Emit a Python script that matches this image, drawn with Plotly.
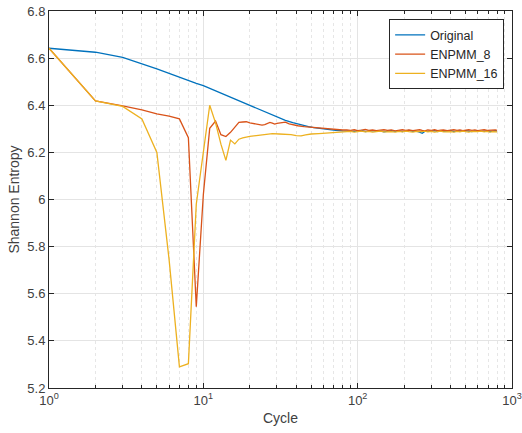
import plotly.graph_objects as go

# ---------------- data ----------------
tail_cycles = [85, 90, 95, 100, 106, 112, 118, 125, 132, 140, 148, 156, 165, 175, 185,
               195, 205, 215, 228, 240, 252, 262, 272, 285, 300, 315, 330, 345, 360, 380,
               400, 420, 440, 460, 480, 500, 525, 550, 575, 600, 630, 660, 690, 720, 750,
               780, 800]

cycles_original = [1, 2, 3, 4, 5, 6, 7, 8, 9, 10, 12, 14, 16, 18, 20, 22, 24, 27, 30, 34,
                   38, 43, 48, 52, 58, 65, 72, 80] + tail_cycles
entropy_original = [6.642, 6.625, 6.603, 6.577, 6.554, 6.535, 6.518, 6.506, 6.493, 6.483,
                    6.461, 6.442, 6.426, 6.411, 6.399, 6.387, 6.377, 6.362, 6.349, 6.336,
                    6.326, 6.316, 6.309, 6.305, 6.300, 6.296, 6.293, 6.291,
                    6.290, 6.292, 6.289, 6.291, 6.293, 6.288, 6.290, 6.292, 6.289, 6.291,
                    6.287, 6.290, 6.292, 6.289, 6.291, 6.288, 6.290, 6.293, 6.289, 6.290,
                    6.286, 6.281, 6.289, 6.291, 6.290, 6.292, 6.288, 6.291, 6.289, 6.290,
                    6.293, 6.288, 6.290, 6.291, 6.289, 6.292, 6.290, 6.288, 6.291, 6.290,
                    6.292, 6.289, 6.291, 6.288, 6.290, 6.292, 6.290]

cycles_enpmm8 = list(range(1, 31)) + [32, 34, 36, 38, 41, 45, 50, 55, 60, 68, 75, 80] + tail_cycles
entropy_enpmm8 = [6.642, 6.418, 6.397, 6.380, 6.363, 6.354, 6.342, 6.262, 5.545, 6.020,
                  6.302, 6.333, 6.275, 6.267, 6.285, 6.309, 6.327, 6.329, 6.330, 6.325,
                  6.322, 6.319, 6.318, 6.316, 6.318, 6.322, 6.327, 6.324, 6.320, 6.323,
                  6.326, 6.328, 6.321, 6.317, 6.313, 6.309, 6.306, 6.304, 6.301, 6.298,
                  6.296, 6.295,
                  6.295, 6.293, 6.296, 6.292, 6.294, 6.297, 6.293, 6.295, 6.292, 6.294,
                  6.296, 6.293, 6.295, 6.291, 6.294, 6.296, 6.293, 6.295, 6.292, 6.294,
                  6.296, 6.293, 6.291, 6.295, 6.293, 6.296, 6.292, 6.294, 6.295, 6.292,
                  6.294, 6.296, 6.293, 6.295, 6.292, 6.294, 6.296, 6.293, 6.295, 6.292,
                  6.294, 6.296, 6.293, 6.294, 6.292, 6.295, 6.293]

cycles_enpmm16 = list(range(1, 21)) + [22, 24, 26, 28, 31, 34, 37, 40, 43, 46, 50, 56, 62,
                                       70, 80] + tail_cycles
entropy_enpmm16 = [6.642, 6.418, 6.395, 6.342, 6.200, 5.745, 5.290, 5.303, 5.980, 6.190,
                   6.400, 6.325, 6.235, 6.166, 6.252, 6.236, 6.256, 6.262, 6.266, 6.268,
                   6.271, 6.274, 6.279, 6.280, 6.278, 6.277, 6.275, 6.271, 6.270, 6.274,
                   6.278, 6.280, 6.282, 6.284, 6.286,
                   6.287, 6.289, 6.286, 6.288, 6.290, 6.287, 6.289, 6.286, 6.288, 6.290,
                   6.287, 6.289, 6.288, 6.286, 6.289, 6.287, 6.290, 6.288, 6.286, 6.289,
                   6.287, 6.288, 6.290, 6.287, 6.289, 6.286, 6.288, 6.290, 6.287, 6.289,
                   6.288, 6.286, 6.289, 6.287, 6.290, 6.288, 6.286, 6.289, 6.287, 6.288,
                   6.290, 6.287, 6.289, 6.286, 6.288, 6.289, 6.287]

series_names = ["Original", "ENPMM_8", "ENPMM_16"]
x_tick_vals = [1, 10, 100, 1000]
x_tick_text = ["10<sup>0</sup>", "10<sup>1</sup>", "10<sup>2</sup>", "10<sup>3</sup>"]
y_tick_vals = [5.2, 5.4, 5.6, 5.8, 6.0, 6.2, 6.4, 6.6, 6.8]
y_tick_text = ["5.2", "5.4", "5.6", "5.8", "6", "6.2", "6.4", "6.6", "6.8"]

# ---------------- figure ----------------
colors = ["#0072BD", "#D95319", "#EDB120"]
xs = [cycles_original, cycles_enpmm8, cycles_enpmm16]
ys = [entropy_original, entropy_enpmm8, entropy_enpmm16]

fig = go.Figure()
for name, x, y, c in zip(series_names, xs, ys, colors):
    fig.add_trace(go.Scatter(x=x, y=y, mode="lines", name=name,
                             line=dict(color=c, width=1.3)))

font_family = "Liberation Sans, Arial, Helvetica, sans-serif"
axis_color = "#262626"
text_color = "#404040"

fig.update_layout(
    width=522, height=433,
    margin=dict(l=49, r=10, t=11, b=45, autoexpand=False),
    paper_bgcolor="white", plot_bgcolor="white",
    font=dict(family=font_family, size=13, color=text_color),
    legend=dict(x=0.983, y=0.978, xanchor="right", yanchor="top",
                bgcolor="white", bordercolor=axis_color, borderwidth=1,
                font=dict(size=12.5, color="#262626"), tracegroupgap=0),
    showlegend=True,
)

fig.update_xaxes(
    type="log", range=[0, 3], automargin=False,
    tickmode="array", tickvals=x_tick_vals, ticktext=x_tick_text,
    ticks="inside", ticklen=5, tickcolor=axis_color, tickwidth=1,
    showline=True, linecolor=axis_color, linewidth=1, mirror="allticks",
    showgrid=True, gridcolor="#e4e4e4", gridwidth=1,
    minor=dict(dtick="D1", showgrid=True, gridcolor="#e6e6e6", griddash="dot",
               ticks="inside", ticklen=3, tickcolor=axis_color),
    zeroline=False,
    title=dict(text="Cycle", font=dict(size=14, color=text_color), standoff=6),
    tickfont=dict(size=13, color=text_color),
)

fig.update_yaxes(
    range=[5.2, 6.8], automargin=False,
    tickmode="array", tickvals=y_tick_vals, ticktext=y_tick_text,
    ticks="inside", ticklen=5, tickcolor=axis_color, tickwidth=1,
    showline=True, linecolor=axis_color, linewidth=1, mirror="allticks",
    showgrid=True, gridcolor="#e4e4e4", gridwidth=1,
    zeroline=False,
    title=dict(text="Shannon Entropy", font=dict(size=14, color=text_color), standoff=4),
    tickfont=dict(size=13, color=text_color),
)

fig.write_html("out.html")
